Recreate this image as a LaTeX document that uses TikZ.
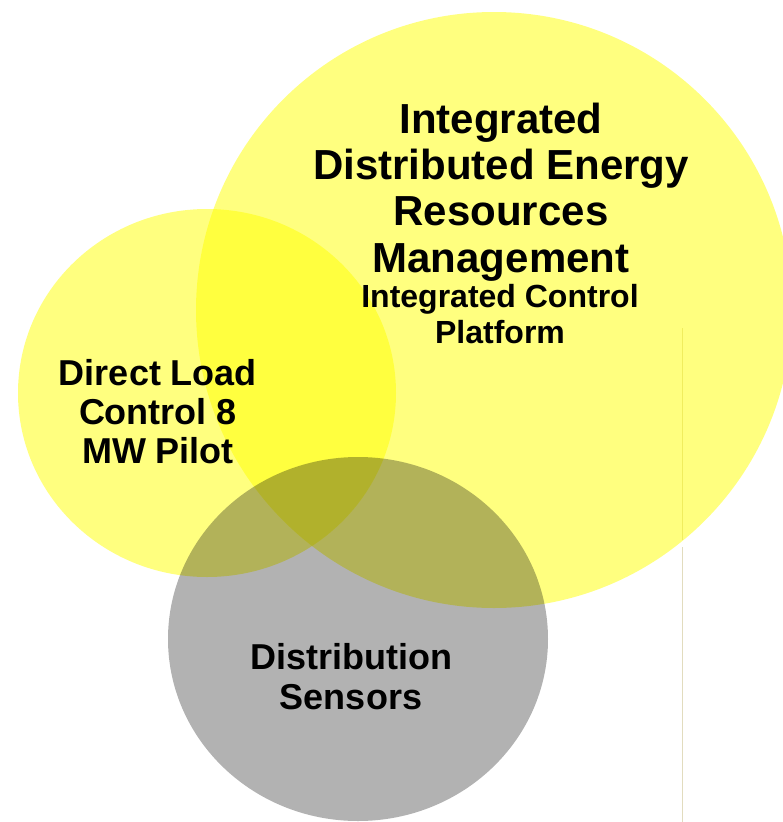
\documentclass[tikz,border=0pt]{standalone}
\usepackage{fontspec}
\setmainfont{Liberation Sans}
\definecolor{guide}{RGB}{226,220,190}
\definecolor{yel0}{RGB}{255,255,0}
\tikzset{
  yel/.style={fill=yel0, fill opacity=0.5, draw=none},
  gry/.style={fill=black, fill opacity=0.3, draw=none},
  lbl/.style={inner sep=0pt, align=center, text=black, font=\bfseries, anchor=base},
}
\begin{document}
\begin{tikzpicture}[x=1pt,y=-1pt]
\useasboundingbox (0,0) rectangle (782,822);
% thin guide line
\coordinate (g1) at (682,328);
\coordinate (g2) at (682,540);
\coordinate (g3) at (682,547);
\coordinate (g4) at (682,822);
\draw[guide, line width=1pt] (g1) -- (g2);
\draw[guide, line width=1pt] (g3) -- (g4);
% circles
\path[yel] (494,310) circle [radius=298];
\path[yel] (207,393) ellipse [x radius=189, y radius=184];
\path[gry] (358,639) ellipse [x radius=190, y radius=182];
% labels (anchor base = baseline of last line)
\node[lbl, font=\bfseries\fontsize{42}{46.3}\selectfont] (ider) at (501,272)
  {Integrated\\Distributed Energy\\Resources\\Management};
\node[lbl, font=\bfseries\fontsize{32}{36}\selectfont] (icp) at (500,343)
  {Integrated Control\\Platform};
\node[lbl, font=\bfseries\fontsize{36}{39}\selectfont] (dlc) at (158,463)
  {Direct Load\\Control 8\\MW Pilot};
\node[lbl, font=\bfseries\fontsize{36}{40}\selectfont] (ds) at (351,709)
  {Distribution\\Sensors};
\end{tikzpicture}
\end{document}
